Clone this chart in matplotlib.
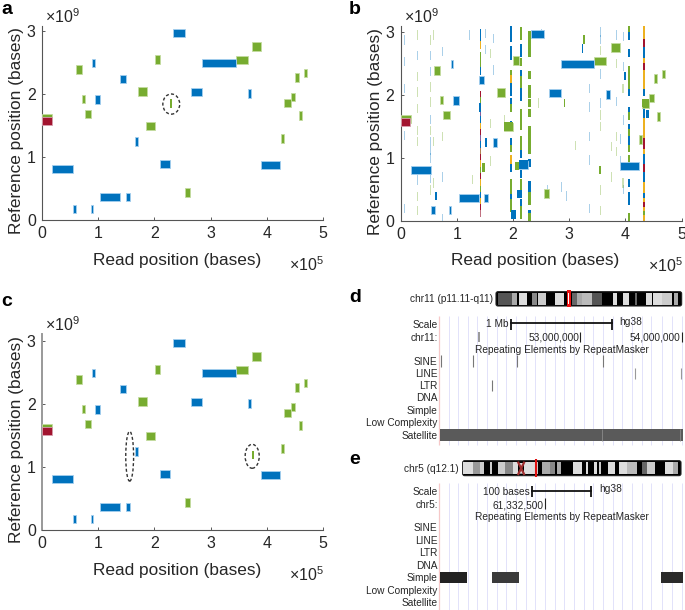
import matplotlib
matplotlib.use('Agg')
import matplotlib.pyplot as plt
from matplotlib.patches import Ellipse, FancyBboxPatch, Rectangle

plt.rcParams['font.family'] = ['Liberation Sans', 'DejaVu Sans']
plt.rcParams['mathtext.default'] = 'regular'

W, H = 685, 610
BLUE, GREEN, RED, YEL = '#0072BD', '#77AC30', '#A2142F', '#EDB120'
EDGE = {BLUE: '#a5cfee', GREEN: '#c4dca0', RED: '#d8a0b0'}
TXT = '#262626'
SMALL = 7.3

# alignments: read start, read end (x1e5), reference position (x1e9)
blue_start = [2.33, 2.85, 2.65, 3.66, 0.895, 1.39, 0.94, 1.65, 2.10, 0.18, 3.90, 1.04, 1.49, 0.55, 0.865]
blue_end = [2.55, 3.45, 2.85, 3.72, 0.94, 1.49, 1.04, 1.71, 2.27, 0.55, 4.24, 1.39, 1.56, 0.61, 0.90]
blue_ref = [2.97, 2.49, 2.03, 2.01, 2.49, 2.24, 1.91, 1.25, 0.89, 0.81, 0.87, 0.365, 0.365, 0.175, 0.175]

green_start = [3.74, 3.45, 2.01, 0.60, 4.51, 4.66, 1.71, 0.71, 4.43, 4.30, 0.76, 4.57, 1.85, 4.25, 2.55, 0.0]
green_end = [3.90, 3.66, 2.10, 0.71, 4.57, 4.71, 1.86, 0.76, 4.51, 4.43, 0.88, 4.62, 2.01, 4.30, 2.64, 0.18]
green_ref = [2.75, 2.54, 2.55, 2.39, 2.26, 2.33, 2.04, 1.92, 1.95, 1.86, 1.68, 1.66, 1.49, 1.29, 0.44, 1.62]

red_start, red_end, red_ref = [0.0], [0.17], [1.57]

# panel b: short repeat hits, (ref pos, colour) per read column
col_142_x = 1.42
col_142 = [(2.98, BLUE), (2.88, BLUE), (2.80, YEL), (2.62, GREEN), (2.50, GREEN), (2.38, BLUE), (2.0, RED), (1.90, GREEN),
           (1.80, RED), (1.70, '#8060a0'), (1.60, BLUE), (1.50, YEL), (1.40, RED), (1.30, '#8060a0'), (1.20, BLUE),
           (1.10, '#b08050'), (1.0, RED), (0.90, YEL), (0.80, GREEN), (0.70, RED), (0.60, YEL), (0.50, GREEN),
           (0.40, BLUE), (0.30, YEL), (0.20, RED), (0.12, '#c07080')]
col_197_x = 1.97
col_197 = [(3.06, BLUE), (2.98, BLUE), (2.90, BLUE), (2.71, BLUE), (2.62, BLUE), (2.34, GREEN), (2.25, YEL), (2.13, BLUE),
           (2.05, BLUE), (1.89, BLUE), (1.80, GREEN), (1.52, BLUE), (1.26, BLUE), (1.15, GREEN), (0.98, YEL), (0.90, YEL),
           (0.84, BLUE), (0.6, GREEN), (0.52, GREEN), (0.44, GREEN), (0.36, BLUE), (0.28, GREEN), (0.2, GREEN)]
col_214_x = 2.14
col_214 = [(3.02, GREEN), (2.94, GREEN), (2.74, BLUE), (2.66, BLUE), (2.53, GREEN), (2.34, BLUE), (2.24, GREEN), (2.12, GREEN),
           (2.05, BLUE), (1.97, BLUE), (1.71, GREEN), (1.62, GREEN), (1.5, GREEN), (1.28, GREEN), (1.18, GREEN), (1.07, BLUE),
           (0.75, BLUE), (0.6, GREEN), (0.5, GREEN), (0.43, BLUE), (0.28, BLUE), (0.18, GREEN), (0.1, GREEN)]
col_229_x = 2.29
col_229 = [(2.95, GREEN), (2.87, GREEN), (2.74, GREEN), (2.66, GREEN), (2.32, GREEN), (2.1, GREEN), (2.02, GREEN), (1.87, GREEN),
           (1.72, GREEN), (1.44, GREEN), (1.35, GREEN), (1.29, GREEN), (1.21, GREEN), (1.13, GREEN), (0.92, BLUE), (0.58, BLUE),
           (0.5, BLUE), (0.39, GREEN), (0.32, GREEN), (0.12, BLUE), (0.06, GREEN)]
col_406_x = 4.06
col_406 = [(3.05, GREEN), (2.97, GREEN), (2.93, BLUE), (2.66, BLUE), (2.4, GREEN), (2.3, GREEN), (2.17, GREEN), (2.09, GREEN),
           (2.04, BLUE), (1.74, BLUE), (1.66, GREEN), (1.47, BLUE), (1.39, GREEN), (1.29, BLUE), (1.21, BLUE), (1.15, GREEN),
           (0.99, GREEN), (0.6, GREEN), (0.39, BLUE), (0.31, BLUE), (0.07, GREEN), (0.02, GREEN)]
col_433_x = 4.33
col_433 = [(3.04, YEL), (2.96, YEL), (2.88, YEL), (2.83, RED), (2.70, BLUE), (2.62, BLUE), (2.52, YEL), (2.44, RED), (2.34, YEL),
           (2.26, YEL), (2.18, YEL), (2.10, YEL), (2.04, BLUE), (1.77, BLUE), (1.66, BLUE), (1.58, YEL), (1.50, YEL), (1.42, YEL),
           (1.34, YEL), (1.26, RED), (1.18, RED), (1.08, YEL), (1.0, BLUE), (0.92, BLUE), (0.84, RED), (0.72, BLUE), (0.64, BLUE),
           (0.56, YEL), (0.48, YEL), (0.38, BLUE), (0.30, YEL), (0.24, RED), (0.16, YEL), (0.10, GREEN), (0.04, YEL)]
columns = [(col_142_x, 0.026, col_142), (col_197_x, 0.042, col_197), (col_214_x, 0.045, col_214),
           (col_229_x, 0.05, col_229), (col_406_x, 0.034, col_406), (col_433_x, 0.036, col_433)]

# extra blocks only seen in panel b
extra_x = [1.84, 1.97, 2.10, 4.30, 1.39, 4.37, 2.08, 3.24, 3.98, 4.04, 0.62, 1.51, 3.53, 2.91, 3.23, 1.45, 2.04]
extra_w = [0.16, 0.08, 0.16, 0.12, 0.05, 0.06, 0.05, 0.05, 0.04, 0.04, 0.03, 0.03, 0.03, 0.02, 0.02, 0.05, 0.06]
extra_y = [1.5, 0.1, 0.9, 1.87, 1.8, 1.7, 0.43, 2.88, 2.3, 0.6, 0.4, 1.25, 0.81, 1.87, 2.74, 0.85, 0.87]
extra_c = [GREEN, BLUE, BLUE, GREEN, BLUE, BLUE, BLUE, GREEN, BLUE, BLUE, BLUE, BLUE, GREEN, GREEN, BLUE, GREEN, GREEN]

# faint hits in panel b
pale_blue_x = [0.07, 0.07, 0.07, 0.07, 0.07, 0.30, 0.30, 0.52, 0.52, 0.52, 0.52, 0.52, 0.52, 0.52, 0.73, 0.73, 0.73, 1.22, 1.5, 1.5,
               1.65, 1.65, 2.85, 2.95, 3.36, 3.36, 3.36, 3.36, 3.36, 3.55, 3.55, 3.55, 3.55, 3.84, 3.84, 3.96, 3.96, 3.96, 3.96, 2.5, 2.6, 3.9, 3.9]
pale_blue_y = [2.87, 2.53, 2.1, 1.36, 0.2, 2.63, 0.65, 2.63, 2.37, 1.61, 1.26, 1.12, 1.0, 0.68, 2.69, 0.7, 0.03, 2.95, 2.98, 2.72,
               2.9, 2.4, 0.54, 0.4, 2.1, 1.81, 1.34, 0.97, 0.2, 3.0, 2.88, 2.33, 1.87, 2.95, 1.9, 2.93, 2.45, 1.6, 0.5, 2.98, 0.5, 1.3, 0.95]
pale_green_x = [0.30, 0.30, 0.30, 0.30, 0.30, 0.30, 0.30, 0.30, 0.52, 0.52, 0.52, 0.52, 0.52, 0.58, 0.58, 0.58, 0.73, 1.28,
                1.6, 1.6, 1.6, 3.55, 3.55, 3.55, 3.55, 3.55, 3.84, 3.84, 3.84, 3.75, 3.75, 1.85, 2.45, 3.1, 3.95, 3.95]
pale_green_y = [2.95, 2.29, 2.05, 1.79, 1.44, 1.26, 0.39, 0.17, 2.87, 2.13, 1.89, 1.44, 0.49, 2.95, 1.26, 0.6, 1.34, 0.66,
                2.66, 1.55, 0.95, 2.71, 1.68, 1.5, 0.49, 0.17, 2.5, 1.34, 1.1, 1.18, 0.7, 1.6, 1.87, 1.2, 2.1, 0.6]

# marks that are only in a or c, with circled regions (x, y, w, h)
a_mark = (2.27, 2.32, 1.85)
a_rings = [(2.30, 1.84, 0.30, 0.32)]
c_marks_x = [1.56, 3.73]
c_marks_w = [0.012, 0.04]
c_marks_y = [1.07, 1.19]
c_rings = [(1.56, 1.17, 0.14, 0.79), (3.74, 1.17, 0.25, 0.38)]

x_ticks = [0, 1, 2, 3, 4, 5]
y_ticks = [0, 1, 2, 3]

# browser tracks, read in panel units
track_names = ['SINE', 'LINE', 'LTR', 'DNA', 'Simple', 'Low Complexity', 'Satellite']
guide_x = [312, 340, 368, 397, 426, 455, 484, 513, 542, 571, 600, 629, 658, 687, 716, 745, 774, 803, 832, 861, 890, 919, 952, 981, 1010]

d_track_y = [245, 282, 318, 355, 392, 430, 467]
d_sine_x = [288, 385, 516, 773]
d_line_x = [870, 1008]
d_ltr_x = [441]
d_bands = [(25, 65, '#555555'), (65, 80, '#aaaaaa'), (88, 110, '#dddddd'), (127, 140, '#888888'), (145, 168, '#cccccc'),
           (195, 222, '#dddddd'), (245, 262, '#666666'), (262, 275, '#aaaaaa'), (275, 305, '#bbbbbb'), (305, 335, '#555555'),
           (370, 380, '#dddddd'), (398, 417, '#dddddd'), (435, 440, '#666666'), (468, 485, '#dddddd'), (488, 515, '#dddddd'),
           (515, 545, '#cccccc'), (552, 565, '#aaaaaa')]

e_track_y = [250, 288, 325, 362, 400, 438, 474]
e_simple_start = [285, 440, 948]
e_simple_end = [367, 523, 1013]
e_simple_c = ['#222222', '#3a3a3a', '#2a2a2a']
e_bands = [(25, 55, '#dddddd'), (55, 75, '#999999'), (75, 87, '#cccccc'), (105, 110, '#cccccc'), (128, 150, '#cccccc'),
           (150, 175, '#888888'), (175, 190, '#dddddd'), (207, 240, '#dddddd'), (247, 250, '#cccccc'), (262, 285, '#aaaaaa'),
           (285, 300, '#888888'), (305, 318, '#aaaaaa'), (355, 380, '#dddddd'), (392, 398, '#dddddd'), (418, 425, '#dddddd'),
           (432, 438, '#cccccc'), (460, 480, '#dddddd'), (492, 515, '#dddddd'), (515, 545, '#bbbbbb'), (560, 575, '#666666'),
           (575, 600, '#cccccc'), (630, 655, '#dddddd'), (655, 670, '#aaaaaa')]

fig = plt.figure(figsize=(W / 100, H / 100), dpi=100)


def px_axes(left, top, right, bottom):
    return fig.add_axes([left / W, 1 - bottom / H, (right - left) / W, (bottom - top) / H])


def ftext(x, y, s, **kw):
    kw.setdefault('va', 'center')
    kw.setdefault('color', TXT)
    fig.text(x / W, 1 - y / H, s, **kw)


def bars(ax, start, end, ref, color, height=0.135):
    widths = [e - s for s, e in zip(start, end)]
    ax.barh(ref, widths, left=start, height=height, color=color, edgecolor=EDGE[color], linewidth=0.6, zorder=3)


def dotplot(left, top, right, bottom, rings=()):
    ax = px_axes(left, top, right, bottom)
    ax.set_xlim(0, 5)
    ax.set_ylim(0, (bottom - top) / 63)
    bars(ax, green_start, green_end, green_ref, GREEN)
    bars(ax, blue_start, blue_end, blue_ref, BLUE)
    bars(ax, red_start, red_end, red_ref, RED)
    for x, y, w, h in rings:
        ax.add_patch(Ellipse((x, y), w, h, fill=False, ec='#333333', lw=1.0, ls=(0, (2.2, 1.6)), zorder=5))
    ax.set_xticks(x_ticks)
    ax.set_yticks(y_ticks)
    ax.tick_params(direction='in', length=2.2, width=0.6, color='#404040', labelcolor=TXT, labelsize=11.5, pad=4.5)
    for s in ['top', 'right']:
        ax.spines[s].set_visible(False)
    for s in ['left', 'bottom']:
        ax.spines[s].set_color('#555555')
        ax.spines[s].set_linewidth(0.8)
    cx = (left + right) / 2
    ftext(cx - 5.5, bottom + 40, 'Read position (bases)', ha='center', fontsize=12.4)
    ftext(left - 25, (top + bottom) / 2 + 8, 'Reference position (bases)', ha='center', rotation=90, fontsize=12.4)
    ftext(right + 1, bottom + 45, r'$\times10^{5}$', ha='right', fontsize=11.5)
    ftext(left + 3, top - 9, r'$\times10^{9}$', ha='left', fontsize=11.5)
    return ax


ax_a = dotplot(42, 26, 323, 220, a_rings)
ax_a.barh([a_mark[2]], [a_mark[1] - a_mark[0]], left=[a_mark[0]], height=0.135, color=GREEN, zorder=3)
ax_a.barh([a_mark[2]], [0.015], left=[a_mark[0] + 0.018], height=0.135, color=YEL, zorder=4)

ax_b = dotplot(400.5, 26, 681.5, 221)
ax_b.barh(pale_blue_y, [0.018] * len(pale_blue_x), left=pale_blue_x, height=0.15, color=BLUE, alpha=0.33, zorder=1)
ax_b.barh(pale_green_y, [0.018] * len(pale_green_x), left=pale_green_x, height=0.15, color=GREEN, alpha=0.36, zorder=1)
for col_x, col_w, hits in columns:
    ys = [h[0] for h in hits]
    cs = [h[1] for h in hits]
    ax_b.barh(ys, [col_w] * len(ys), left=col_x - col_w / 2, height=0.125, color=cs, zorder=2)
ax_b.barh(extra_y, extra_w, left=extra_x, height=0.135, color=extra_c, zorder=4)

ax_c = dotplot(42, 334, 323, 530, c_rings)
ax_c.spines['left'].set_color('#999999')
ax_c.spines['left'].set_linewidth(1.4)
ax_c.barh(c_marks_y, c_marks_w, left=c_marks_x, height=0.135, color=GREEN, zorder=3)

for x, y, s in [(1, 9, 'a'), (349, 9, 'b'), (1, 301, 'c'), (349, 298, 'd'), (349, 459, 'e')]:
    ftext(x, y, s, fontsize=14, fontweight='bold', color='black', ha='left')


def browser_axes(left, top, right, bottom):
    ax = px_axes(left, top, right, bottom)
    ax.set_xlim(0, (right - left) * 3)
    ax.set_ylim((bottom - top) * 3, 0)
    ax.axis('off')
    return ax


def ideogram(ax, x0, x1, y0, y1, bands):
    ax.add_patch(FancyBboxPatch((x0, y0), x1 - x0, y1 - y0, boxstyle='round,pad=0,rounding_size=6',
                                fc='black', ec='#222222', lw=0.8))
    for s, e, c in bands:
        ax.add_patch(Rectangle((s, y0 + 4), e - s, y1 - y0 - 8, fc=c, ec='none', zorder=3))


def label_tracks(ax, names, ys):
    for name, y in zip(names, ys):
        ax.text(278, y, name, ha='right', va='center', fontsize=SMALL, color=TXT)


# panel d
ax_d = browser_axes(345, 280, 685, 450)
ax_d.vlines(guide_x, 108, 495, color='#e2e2fa', lw=0.7, zorder=0)
ax_d.vlines([281], 108, 495, color='#f6c8c8', lw=0.9, zorder=1)
ax_d.text(445, 58, 'chr11 (p11.11-q11)', ha='right', va='center', fontsize=SMALL, color=TXT)
# band columns are relative to the crop at x=490, so shift into panel units
ideogram(ax_d, 453, 1010, 35, 78, [(s + 435, e + 435, c) for s, e, c in d_bands])
ax_d.add_patch(Rectangle((665, 30), 13, 50, fc='#ee1111', ec='none', zorder=4))
ax_d.add_patch(Rectangle((669, 38), 4, 34, fc='white', ec='none', zorder=5))
label_tracks(ax_d, ['Scale', 'chr11:'], [135, 173])
label_tracks(ax_d, track_names, d_track_y)
ax_d.plot([497, 802], [130, 130], color='#111111', lw=1.3)
ax_d.vlines([497, 802], 116, 149, color='#111111', lw=1.3)
ax_d.text(490, 133, '1 Mb', ha='right', va='center', fontsize=SMALL, color=TXT)
ax_d.text(823, 125, 'hg38', ha='left', va='center', fontsize=SMALL, color=TXT)
ax_d.vlines([402], 155, 187, color='#888888', lw=1.2)
ax_d.vlines([706, 1012], 155, 187, color='#222222', lw=0.8)
ax_d.text(702, 173, '53,000,000', ha='right', va='center', fontsize=SMALL, color=TXT)
ax_d.text(1007, 173, '54,000,000', ha='right', va='center', fontsize=SMALL, color=TXT)
ax_d.text(650, 210, 'Repeating Elements by RepeatMasker', ha='center', va='center', fontsize=SMALL, color=TXT)
ax_d.vlines(d_sine_x, 226, 260, color='#777777', lw=0.8)
ax_d.vlines(d_line_x, 263, 297, color='#999999', lw=0.8)
ax_d.vlines(d_ltr_x, 300, 334, color='#777777', lw=0.8)
ax_d.add_patch(Rectangle((285, 448), 728, 34, fc='#5a5a5a', ec='none', zorder=3))
ax_d.vlines([772, 1005], 448, 482, color='#8a8a8a', lw=0.6, zorder=4)

# panel e
ax_e = browser_axes(345, 445, 685, 610)
ax_e.vlines(guide_x, 115, 495, color='#e2e2fa', lw=0.7, zorder=0)
ax_e.vlines([281], 115, 495, color='#f6c8c8', lw=0.9, zorder=1)
ax_e.text(342, 72, 'chr5 (q12.1)', ha='right', va='center', fontsize=SMALL, color=TXT)
ideogram(ax_e, 353, 1008, 47, 92, [(s + 330, e + 330, c) for s, e, c in e_bands])
ax_e.fill([520, 537, 520, 537], [54, 54, 86, 86], fc='#dddddd', ec='none', zorder=3)
ax_e.plot([520, 537], [53, 87], color='#a03030', lw=1.6, zorder=4)
ax_e.plot([520, 537], [87, 53], color='#a03030', lw=1.6, zorder=4)
ax_e.vlines([572], 42, 96, color='#e01010', lw=1.5, zorder=5)
label_tracks(ax_e, ['Scale', 'chr5:'], [142, 180])
label_tracks(ax_e, track_names, e_track_y)
ax_e.plot([560, 738], [138, 138], color='#111111', lw=1.3)
ax_e.vlines([560, 738], 123, 156, color='#111111', lw=1.3)
ax_e.text(553, 140, '100 bases', ha='right', va='center', fontsize=SMALL, color=TXT)
ax_e.text(762, 133, 'hg38', ha='left', va='center', fontsize=SMALL, color=TXT)
ax_e.vlines([600], 160, 192, color='#222222', lw=0.8)
ax_e.text(595, 181, '61,332,500', ha='right', va='center', fontsize=SMALL, color=TXT)
ax_e.text(650, 217, 'Repeating Elements by RepeatMasker', ha='center', va='center', fontsize=SMALL, color=TXT)
for s, e, c in zip(e_simple_start, e_simple_end, e_simple_c):
    ax_e.add_patch(Rectangle((s, 380), e - s, 35, fc=c, ec='none', zorder=3))

fig.savefig('out.png', dpi=100)
